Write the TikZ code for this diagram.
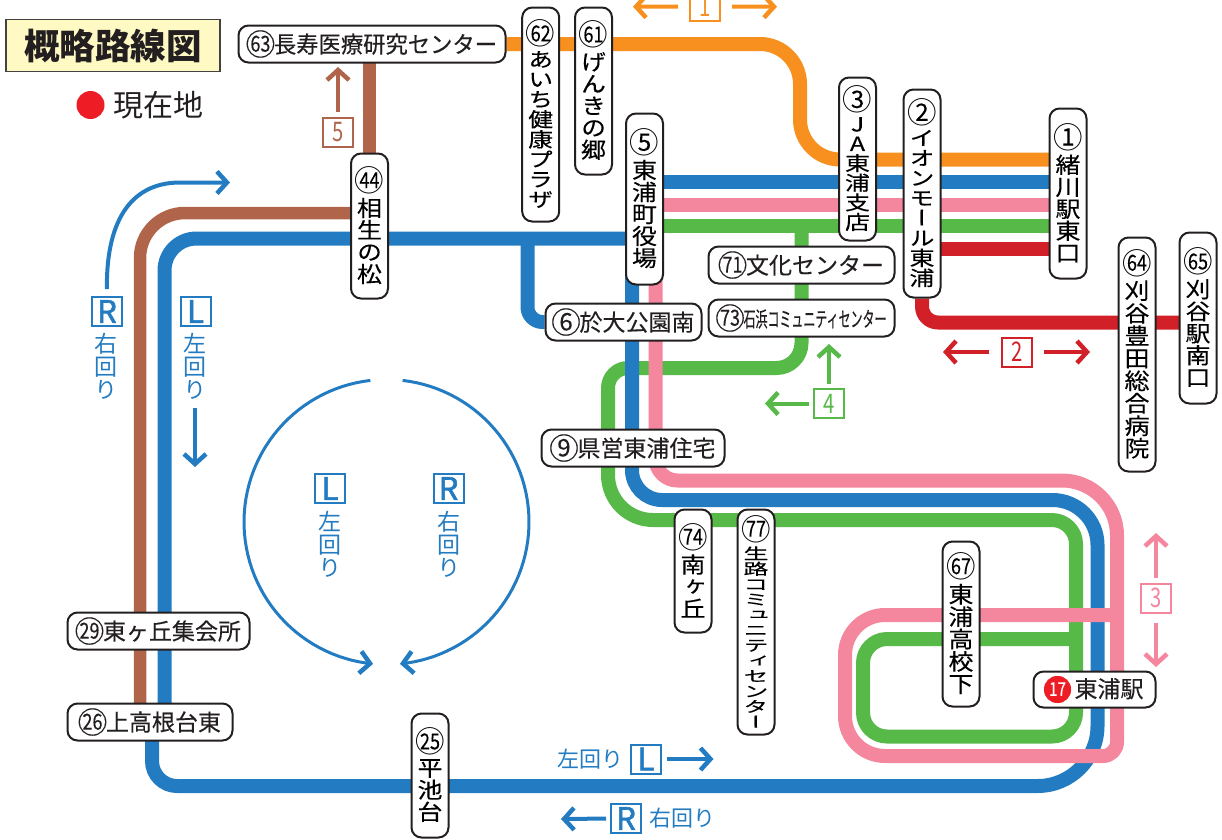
\documentclass[tikz,border=0pt]{standalone}
\usepackage{fontspec}
\usepackage{graphicx}
\usetikzlibrary{arrows.meta,backgrounds}
\setmainfont{Noto Sans CJK JP}
\newfontfamily\mjp[FakeBold=0.25]{Noto Sans CJK JP}
\newfontfamily\ljp[FakeBold=1.8]{Noto Sans CJK JP}
\newfontfamily\vjp[FakeBold=0.25,RawFeature=+vert]{Noto Sans CJK JP}
\newfontfamily\vlt[RawFeature=+vert]{Noto Sans CJK JP}
\definecolor{cOrange}{HTML}{F7901E}
\definecolor{cBlue}{HTML}{237CC1}
\definecolor{cPink}{HTML}{F4869E}
\definecolor{cGreen}{HTML}{56B948}
\definecolor{cRed}{HTML}{D12028}
\definecolor{cBrown}{HTML}{B0654A}
\definecolor{cInk}{HTML}{231F20}
\definecolor{cTitle}{HTML}{FFF9C4}
\definecolor{cDot}{HTML}{EE1C25}
\newcommand\fs[1]{\fontsize{#1}{#1}\selectfont}
% circled numbers: one digit and two digits
\newcommand\cns[1]{\hbox to 27pt{\hss\hbox to 0pt{\hss\raisebox{-2.4pt}{\fs{29.5}◯}\hss}\hbox to 0pt{\hss\raisebox{0.5pt}{\fs{24}\mjp #1}\hss}\hss}}
\newcommand\cnd[1]{\hbox to 27pt{\hss\hbox to 0pt{\hss\raisebox{-2.4pt}{\fs{29.5}◯}\hss}\hbox to 0pt{\hss\raisebox{1.2pt}{\scalebox{0.82}[1]{\fs{22}\mjp #1}}\hss}\hss}}
\newcommand\cnr[1]{\hbox to 24pt{\hss\hbox to 0pt{\hss\raisebox{-3.5pt}{\color{cDot}\fs{30}●}\hss}\hbox to 0pt{\hss\raisebox{1.5pt}{\scalebox{0.8}[1]{\color{white}\fs{19}\mjp #1}}\hss}\hss}}
% vertical stacks
\def\vend{\vend}
\def\vch#1{\ifx#1\vend\else\hbox to 25pt{\hss #1\hss}\expandafter\vch\fi}
\newcommand\vlab[3][22]{\pgfmathsetmacro\vs{#1/25}\vbox{\hsize=30pt\offinterlineskip
  \hbox to 30pt{\vrule height 26pt width 0pt\hss\smash{\raisebox{4.6pt}{#2}}\hss}\kern 4pt
  \hbox to 30pt{\hss\scalebox{1}[\vs]{\vbox{\baselineskip=25pt\lineskiplimit=-60pt\lineskip=0pt\fs{25}\baselineskip=25pt\vjp\vch#3\vend}}\hss}}}
\newcommand\vplain[1]{\vbox{\baselineskip=23pt\lineskiplimit=-60pt\lineskip=0pt\fs{23}\baselineskip=23pt\vlt\vch#1\vend}}
\tikzset{
  stnv/.style={draw=cInk,fill=white,rounded corners=10pt,line width=2pt,inner sep=0pt,minimum width=37pt},
  stnh/.style={draw=cInk,fill=white,rounded corners=10pt,line width=2pt,inner sep=0pt,font=\fs{23}\mjp,text=cInk,minimum height=37pt},
  ln/.style={line width=14pt,line join=round},
  arw/.style={draw=#1,line width=4pt,-{Straight Barb[length=10pt,width=22pt,line width=4.5pt]}},
  tagn/.style={draw=#1,text=#1,line width=2pt,inner sep=0pt,minimum width=30pt,minimum height=29pt,fill=white,font=\fs{27}},
  tagl/.style={draw=cBlue,text=cBlue,line width=2pt,inner sep=0pt,minimum width=30pt,minimum height=29pt,fill=white,font=\fs{31}\ljp},
  blab/.style={text=cBlue,inner sep=0pt,font=\fs{22}}
}
\begin{document}
\begin{tikzpicture}[x=1pt,y=-1pt]
\path[use as bounding box] (0,0) rectangle (1222,839);
% title
\node[draw=cInk!85,fill=cTitle,line width=1.4pt,minimum width=214pt,minimum height=52pt,inner sep=0pt,font=\fs{35.5}\bfseries,text=cInk] (title) at (113,45.5) {概略路線図};
\node[circle,fill=cDot,minimum size=28pt,inner sep=0pt] (here) at (90.5,105) {};
\node[inner sep=0pt,font=\fs{30},text=cInk] (herel) at (158,105) {現在地};
% stations
\node[stnh,minimum width=267pt] (n63) at (372,44) {\cnd{63}\scalebox{0.97}[1]{長寿医療研究センター}};
\node[stnv,minimum height=214pt] (n62) at (540.7,114.5) {\vlab[20]{\cnd{62}}{あいち健康プラザ}};
\node[stnv,minimum height=167pt] (n61) at (593.5,91) {\vlab{\cnd{61}}{げんきの郷}};
\node[stnv,minimum height=145pt] (n44) at (369.5,226) {\vlab{\cnd{44}}{相生の松}};
\node[stnv,minimum height=163pt] (n3) at (857.5,159) {\vlab[19.6]{\cns{3}}{JA東浦支店}};
\node[stnv,minimum height=208pt] (n2) at (922,193.5) {\vlab[20]{\cns{2}}{イオンモール東浦}};
\node[stnv,minimum height=170pt] (n1) at (1068,193.5) {\vlab{\cns{1}}{緒川駅東口}};
\node[stnv,minimum height=171pt] (n5) at (644.5,199) {\vlab{\cns{5}}{東浦町役場}};
\node[stnv,minimum height=234pt] (n64) at (1137,354.5) {\vlab[22.5]{\cnd{64}}{刈谷豊田総合病院}};
\node[stnv,minimum height=171pt] (n65) at (1198,318) {\vlab{\cnd{65}}{刈谷駅南口}};
\node[stnh,minimum width=186pt] (n71) at (801.5,265) {\cnd{71}文化センター};
\node[stnh,minimum width=186pt] (n73) at (801.5,318) {\cnd{73}\scalebox{0.57}[1]{\fs{21}石浜コミュニティセンター}};
\node[stnh,minimum width=156pt] (n6) at (623.5,322) {\cns{6}於大公園南};
\node[stnh,minimum width=183pt] (n9) at (633,448) {\cns{9}県営東浦住宅};
\node[stnv,minimum height=123pt] (n74) at (693,571) {\vlab{\cnd{74}}{南ヶ丘}};
\node[stnv,minimum height=225pt] (n77) at (756,622) {\vlab[15.3]{\cnd{77}}{生路コミュニティセンター}};
\node[stnv,minimum height=165pt] (n67) at (961,624) {\vlab[22.4]{\cnd{67}}{東浦高校下}};
\node[stnh,minimum width=122pt,minimum height=36pt] (n17) at (1094.5,689.5) {\cnr{17}\hspace{5pt}東浦駅};
\node[stnh,minimum width=182pt] (n29) at (158.5,631) {\cnd{29}東ヶ丘集会所};
\node[stnh,minimum width=165pt] (n26) at (150,722) {\cnd{26}上高根台東};
\node[stnv,minimum height=124pt] (n25) at (430,775.5) {\vlab{\cnd{25}}{平池台}};
% route lines behind the stations
\begin{scope}[on background layer]
\draw[ln,line width=12.5pt,cBrown,rounded corners=45pt] (140,0 |- n26) -- (140,213) -- (n44 |- 0,213);
\draw[ln,line width=12.5pt,cBrown] (n44) -- (n44 |- n63);
\draw[ln,cOrange,rounded corners=40pt] (n63) -- (800,44) -- (800,159.5) -- (n1 |- 0,159.5);
\draw[ln,cRed] (n2 |- 0,249) -- (n1 |- 0,249);
\draw[ln,cRed,rounded corners=16pt] (n2) -- (n2 |- 0,322.5) -- (n65 |- 0,322.5);
\draw[ln,cGreen] (n5 |- 0,225.5) -- (n1 |- 0,225.5);
\draw[ln,cGreen] (n71 |- 0,225.5) [rounded corners=25pt] -- (n71 |- 0,368) [rounded corners=20pt] -- (608,368) [rounded corners=45pt] -- (608,520) [rounded corners=24pt] -- (1076,520) [rounded corners=24pt] -- (1076,736.5) -- (863,736.5) -- (863,639) -- (1076,639);
\draw[ln,cBlue] (n5 |- 0,181.5) -- (n1 |- 0,181.5);
\draw[ln,cPink] (n5 |- 0,204.5) -- (n1 |- 0,204.5);
\draw[ln,cBlue,rounded corners=32pt] (n5 |- 0,238.5) -- (164.5,238.5) -- (164.5,0 |- n26);
\draw[ln,cBlue,rounded corners=15pt] (527.5,238.5) -- (527.5,322) -- (n6);
\draw[ln,cBlue] (152,0 |- n26) [rounded corners=25pt] -- (152,786) [rounded corners=60pt] -- (1097.5,786) [rounded corners=45pt] -- (1097.5,500) [rounded corners=30pt] -- (632,500) -- (632,0 |- n5);
\draw[ln,cPink] (655.5,0 |- n5) [rounded corners=22pt] -- (655.5,480.5) [rounded corners=55pt] -- (1117,480.5) [rounded corners=14pt] -- (1117,756) [rounded corners=40pt] -- (845,756) -- (845,615) -- (1117,615);
\end{scope}
% numbered tags and arrows
\node[tagn=cOrange] (t1) at (705,6.5) {\scalebox{0.75}[1]{1}};
\coordinate (a1l) at (633,6.7); \coordinate (a1r) at (777,6.7);
\draw[arw=cOrange,shorten <=11pt] (t1.west) -- (a1l);
\draw[arw=cOrange,shorten <=11pt] (t1.east) -- (a1r);
\node[tagn=cBrown] (t5) at (338,132) {\scalebox{0.75}[1]{5}};
\coordinate (a5) at (338,67);
\draw[arw=cBrown,shorten <=5pt] (t5.north) -- (a5);
\node[tagn=cRed] (t2) at (1017,352) {\scalebox{0.75}[1]{2}};
\coordinate (a2l) at (943,352); \coordinate (a2r) at (1090,352);
\draw[arw=cRed,shorten <=12pt] (t2.west) -- (a2l);
\draw[arw=cRed,shorten <=11pt] (t2.east) -- (a2r);
\node[tagn=cGreen] (t4) at (829,403.5) {\scalebox{0.75}[1]{4}};
\coordinate (a4u) at (829,344); \coordinate (a4l) at (765,403.5);
\draw[arw=cGreen,shorten <=4pt] (t4.north) -- (a4u);
\draw[arw=cGreen,shorten <=4pt] (t4.west) -- (a4l);
\node[tagn=cPink] (t3) at (1156,598) {\scalebox{0.75}[1]{3}};
\coordinate (a3u) at (1156,533); \coordinate (a3d) at (1156,667);
\draw[arw=cPink,shorten <=5pt] (t3.north) -- (a3u);
\draw[arw=cPink,shorten <=9pt] (t3.south) -- (a3d);
% direction labels
\node[tagl] (tR) at (107,311.5) {R};
\node[blab,anchor=north] (tRl) at (106,333) {\vplain{右回り}};
\node[tagl] (tL) at (195.5,311.5) {L};
\node[blab,anchor=north] (tLl) at (195,333) {\vplain{左回り}};
\coordinate (aR) at (230,182.5); \coordinate (aL) at (195,467); \coordinate (aLs) at (195,408);
\draw[arw=cBlue,shorten <=7pt] (tR.north) .. controls (106,215) and (135,182.5) .. (180,182.5) -- (aR);
\draw[arw=cBlue] (aLs) -- (aL);
% circle
\draw[arw=cBlue,line width=3pt] plot[domain=96.5:264.6,samples=60] ({386.5+142.5*cos(\x)},{522-142.5*sin(\x)});
\draw[arw=cBlue,line width=3pt] plot[domain=83.5:-84.6,samples=60] ({386.5+142.5*cos(\x)},{522-142.5*sin(\x)});
\node[tagl] (cL) at (330,488.5) {L};
\node[blab,anchor=north] (cLl) at (330,511) {\vplain{左回り}};
\node[tagl] (cR) at (448.5,488.5) {R};
\node[blab,anchor=north] (cRl) at (449,511) {\vplain{右回り}};
% bottom labels
\node[blab] (bLl) at (590,759) {左回り};
\node[tagl] (bL) at (646,759) {L};
\coordinate (abL) at (713.5,759);
\draw[arw=cBlue,shorten <=5pt] (bL.east) -- (abL);
\node[tagl] (bR) at (626,818.5) {R};
\node[blab] (bRl) at (682,818) {右回り};
\coordinate (abR) at (561,819);
\draw[arw=cBlue,shorten <=4pt] (bR.west) -- (abR);
\end{tikzpicture}
\end{document}
